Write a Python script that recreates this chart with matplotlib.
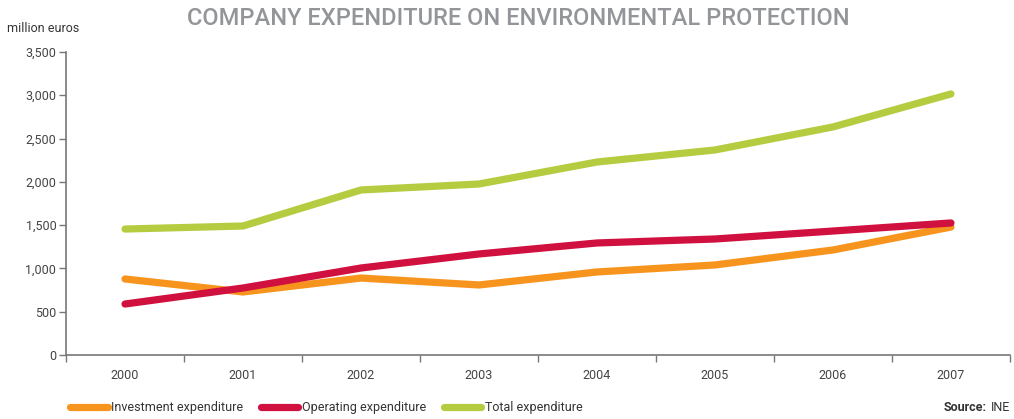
import matplotlib
matplotlib.use("Agg")
import matplotlib.pyplot as plt
from matplotlib.lines import Line2D
import numpy as np

plt.rcParams['font.family'] = ['Roboto', 'DejaVu Sans']

years = ['2000', '2001', '2002', '2003', '2004', '2005', '2006', '2007']
investment = [878, 728, 889, 809, 959, 1040, 1213, 1478]
operating = [589, 774, 1005, 1167, 1294, 1340, 1432, 1525]
total = [1455, 1490, 1906, 1975, 2229, 2368, 2634, 3015]
series_names = ['Investment expenditure', 'Operating expenditure', 'Total expenditure']
colors = ['#F7941D', '#D0103F', '#B5CC40']
yticks = [0, 500, 1000, 1500, 2000, 2500, 3000, 3500]

fig = plt.figure(figsize=(10.14, 4.19), dpi=100)
ax = fig.add_axes([0.0651, 0.1527, 0.9309, 0.7233])

x = np.arange(len(years))
for vals, c, name in zip([investment, operating, total], colors, series_names):
    ax.plot(x, vals, color=c, lw=5.2, solid_capstyle='round', solid_joinstyle='round', label=name)

ax.set_xlim(-0.5, len(years) - 0.5)
ax.set_ylim(0, 3500)
ax.set_yticks(yticks)
ax.set_yticklabels([f'{v:,}' for v in yticks], fontsize=9, color='#444444')
ax.set_xticks(x)
ax.set_xticklabels(years, fontsize=9, color='#444444')
ax.tick_params(axis='x', which='major', length=0, pad=10)
ax.set_xticks(np.arange(-0.5, len(years)), minor=True)
ax.tick_params(axis='x', which='minor', length=5, direction='out', color='#777777', width=1)
ax.tick_params(axis='y', length=5, direction='out', color='#777777', width=1, pad=2)

for s in ['top', 'right']:
    ax.spines[s].set_visible(False)
for s in ['left', 'bottom']:
    ax.spines[s].set_color('#777777')
    ax.spines[s].set_linewidth(1.2)

fig.text(0.511, 0.955, 'COMPANY EXPENDITURE ON ENVIRONMENTAL PROTECTION', ha='center', va='center',
         fontsize=17, color='#939598', fontweight='medium')
fig.text(0.007, 0.933, 'million euros', ha='left', va='center', fontsize=9, color='#333333')

handles = [Line2D([0], [0], color=c, lw=5.2, solid_capstyle='round') for c in colors]
fig.legend(handles, series_names, loc='center left', bbox_to_anchor=(0.058, 0.027), ncol=3,
           frameon=False, fontsize=9, handlelength=3.0, handletextpad=0.3, columnspacing=1.4,
           labelcolor='#333333')

fig.text(0.996, 0.027, 'INE', ha='right', va='center', fontsize=9, color='#333333')
fig.text(0.973, 0.027, 'Source:', ha='right', va='center', fontsize=9, color='#333333', fontweight='bold')

fig.savefig('out.png', dpi=100)
